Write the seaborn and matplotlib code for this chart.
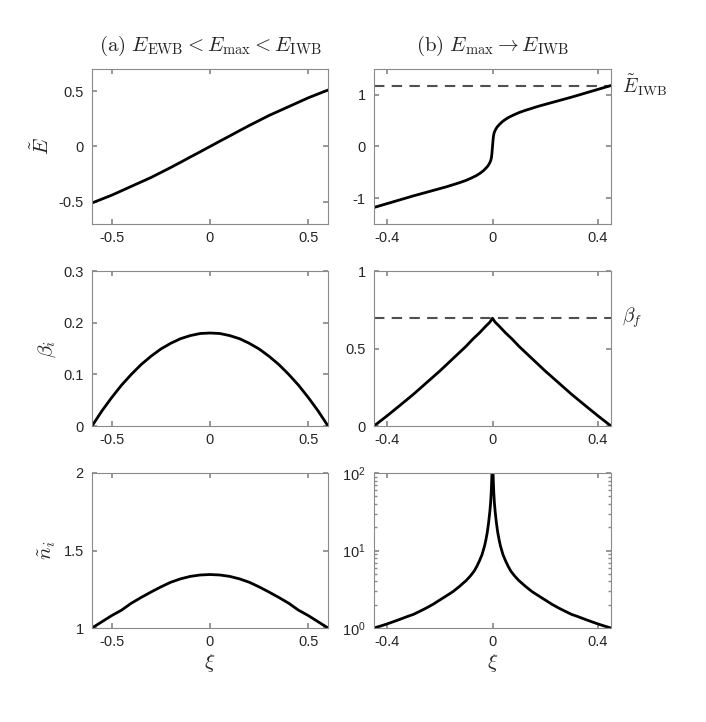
import numpy as np
import pandas as pd
import matplotlib
matplotlib.use("Agg")
import matplotlib.pyplot as plt
import matplotlib.transforms as mtrans
import seaborn as sns

# ---------------- data ----------------
# (a) left column, xi in [-0.6, 0.6]
xi_a = [-0.6, -0.55, -0.5, -0.45, -0.4, -0.35, -0.3, -0.25, -0.2, -0.15, -0.1, -0.05,
        0.0, 0.05, 0.1, 0.15, 0.2, 0.25, 0.3, 0.35, 0.4, 0.45, 0.5, 0.55, 0.6]
E_a = [-0.51, -0.475, -0.44, -0.40, -0.36, -0.32, -0.28, -0.235, -0.19, -0.143, -0.095, -0.048,
       0.0, 0.048, 0.095, 0.143, 0.19, 0.235, 0.28, 0.32, 0.36, 0.40, 0.44, 0.475, 0.51]
beta_a = [0.0, 0.029, 0.055, 0.079, 0.10, 0.119, 0.135, 0.149, 0.16, 0.169, 0.175, 0.179,
          0.18, 0.179, 0.175, 0.169, 0.16, 0.149, 0.135, 0.119, 0.10, 0.079, 0.055, 0.029, 0.0]
n_a = [1.0, 1.04, 1.08, 1.115, 1.16, 1.197, 1.232, 1.265, 1.295, 1.317, 1.333, 1.342,
       1.345, 1.342, 1.333, 1.317, 1.295, 1.265, 1.232, 1.197, 1.16, 1.115, 1.08, 1.04, 1.0]

# (b) right column, xi in [-0.45, 0.45]
xi_bE = [-0.45, -0.4, -0.35, -0.3, -0.25, -0.2, -0.175, -0.15, -0.125, -0.1, -0.08, -0.06,
         -0.045, -0.035, -0.025, -0.018, -0.013, -0.009, -0.006, -0.004, -0.003, -0.002,
         -0.001, 0.0, 0.001, 0.002, 0.003, 0.004, 0.006, 0.009, 0.013, 0.018, 0.025,
         0.035, 0.045, 0.06, 0.08, 0.1, 0.125, 0.15, 0.175, 0.2, 0.25, 0.3, 0.35, 0.4, 0.45]
E_b = [-1.18, -1.105, -1.03, -0.955, -0.885, -0.815, -0.78, -0.74, -0.70, -0.655, -0.61, -0.56,
       -0.51, -0.47, -0.42, -0.38, -0.34, -0.30, -0.26, -0.21, -0.17, -0.12,
       -0.06, 0.0, 0.06, 0.12, 0.17, 0.21, 0.26, 0.30, 0.34, 0.38, 0.42,
       0.47, 0.51, 0.56, 0.61, 0.655, 0.70, 0.74, 0.78, 0.815, 0.885, 0.955, 1.03, 1.105, 1.18]

xi_bb = [-0.45, -0.4, -0.35, -0.3, -0.25, -0.2, -0.15, -0.1, -0.075, -0.05, -0.025, -0.01, 0.0,
         0.01, 0.025, 0.05, 0.075, 0.1, 0.15, 0.2, 0.25, 0.3, 0.35, 0.4, 0.45]
beta_b = [0.0, 0.066, 0.135, 0.205, 0.28, 0.355, 0.435, 0.515, 0.56, 0.60, 0.645, 0.67, 0.695,
          0.67, 0.645, 0.60, 0.56, 0.515, 0.435, 0.355, 0.28, 0.205, 0.135, 0.066, 0.0]

xi_bn = [-0.45, -0.425, -0.4, -0.375, -0.35, -0.325, -0.3, -0.275, -0.25, -0.225, -0.2,
         -0.175, -0.15, -0.125, -0.1, -0.085, -0.07, -0.06, -0.05, -0.04, -0.03, -0.025,
         -0.02, -0.015, -0.01, -0.007, -0.005, -0.003, -0.002, 0.0,
         0.002, 0.003, 0.005, 0.007, 0.01, 0.015, 0.02, 0.025, 0.03, 0.04, 0.05, 0.06,
         0.07, 0.085, 0.1, 0.125, 0.15, 0.175, 0.2, 0.225, 0.25, 0.275, 0.3, 0.325, 0.35,
         0.375, 0.4, 0.425, 0.45]
n_b = [1.0, 1.06, 1.13, 1.21, 1.3, 1.4, 1.5, 1.65, 1.82, 2.03, 2.3,
       2.6, 2.95, 3.45, 4.1, 4.65, 5.4, 6.2, 7.3, 8.8, 11.5, 13.8,
       17.0, 22.5, 32.0, 42.0, 55.0, 80.0, 105.0, 200.0,
       105.0, 80.0, 55.0, 42.0, 32.0, 22.5, 17.0, 13.8, 11.5, 8.8, 7.3, 6.2,
       5.4, 4.65, 4.1, 3.45, 2.95, 2.6, 2.3, 2.03, 1.82, 1.65, 1.5, 1.4, 1.3,
       1.21, 1.13, 1.06, 1.0]

E_IWB = 1.18
beta_f = 0.70

titles = [r"$\mathrm{(a)}\ E_{\mathrm{EWB}} < E_{\max} < E_{\mathrm{IWB}}$",
          r"$\mathrm{(b)}\ E_{\max} \rightarrow E_{\mathrm{IWB}}$"]
ylabels = [r"$\tilde{E}$", r"$\beta_i$", r"$\tilde{n}_i$"]
xlabel = r"$\xi$"
label_E = r"$\tilde{E}_{\mathrm{IWB}}$"
label_beta = r"$\beta_f$"

# ---------------- style ----------------
sns.set_theme(style="white")
plt.rcParams["font.family"] = ["Liberation Sans", "DejaVu Sans"]
plt.rcParams["mathtext.fontset"] = "cm"
spine_c = "#8a8a8a"
text_c = "#262626"
plt.rcParams.update({
    "axes.edgecolor": spine_c, "axes.linewidth": 0.8,
    "xtick.color": spine_c, "ytick.color": spine_c,
    "xtick.labelcolor": text_c, "ytick.labelcolor": text_c,
    "xtick.direction": "in", "ytick.direction": "in",
    "xtick.major.size": 3.5, "ytick.major.size": 3.5,
    "xtick.minor.size": 2, "ytick.minor.size": 2,
    "xtick.major.pad": 5, "ytick.major.pad": 6,
    "xtick.labelsize": 10.5, "ytick.labelsize": 10.5,
})

fig = plt.figure(figsize=(7.06, 7.22), dpi=100)
W, H = 706, 722
cols = [(92, 236), (374, 237)]
rows = [(69, 155), (271, 155), (473, 155)]
axes = [[fig.add_axes([cx / W, 1 - (ry + rh) / H, cw / W, rh / H]) for (cx, cw) in cols]
        for (ry, rh) in rows]

lw = 2.0
dash_c = "#505050"

def draw(ax, x, y):
    df = pd.DataFrame({"xi": x, "v": y})
    sns.lineplot(data=df, x="xi", y="v", ax=ax, color="black", lw=lw,
                 sort=False, estimator=None)
    ax.set_xlabel("")
    ax.set_ylabel("")

# left column
draw(axes[0][0], xi_a, E_a)
draw(axes[1][0], xi_a, beta_a)
draw(axes[2][0], xi_a, n_a)
for ax in (axes[0][0], axes[1][0], axes[2][0]):
    ax.set_xlim(-0.6, 0.6)
    ax.set_xticks([-0.5, 0, 0.5], ["-0.5", "0", "0.5"])
axes[0][0].set_ylim(-0.7, 0.7)
axes[0][0].set_yticks([-0.5, 0, 0.5], ["-0.5", "0", "0.5"])
axes[1][0].set_ylim(0, 0.3)
axes[1][0].set_yticks([0, 0.1, 0.2, 0.3], ["0", "0.1", "0.2", "0.3"])
axes[2][0].set_ylim(1, 2)
axes[2][0].set_yticks([1, 1.5, 2], ["1", "1.5", "2"])

# right column
draw(axes[0][1], xi_bE, E_b)
draw(axes[1][1], xi_bb, beta_b)
axes[2][1].set_yscale("log")
draw(axes[2][1], xi_bn, n_b)
for ax in (axes[0][1], axes[1][1], axes[2][1]):
    ax.set_xlim(-0.45, 0.45)
    ax.set_xticks([-0.4, 0, 0.4], ["-0.4", "0", "0.4"])
axes[0][1].set_ylim(-1.5, 1.5)
axes[0][1].set_yticks([-1, 0, 1], ["-1", "0", "1"])
axes[1][1].set_ylim(0, 1)
axes[1][1].set_yticks([0, 0.5, 1], ["0", "0.5", "1"])
axes[2][1].set_ylim(1, 100)

# dashed reference levels
axes[0][1].axhline(E_IWB, color=dash_c, lw=1.5, ls=(0, (5, 3.5)), zorder=1)
axes[1][1].axhline(beta_f, color=dash_c, lw=1.5, ls=(0, (5, 3.5)), zorder=1)
for ax, lev, lab in ((axes[0][1], E_IWB, label_E), (axes[1][1], beta_f, label_beta)):
    tr = mtrans.blended_transform_factory(ax.transAxes, ax.transData)
    ax.text(1.045, lev, lab, transform=tr, ha="left", va="center",
            fontsize=14, color=text_c)

for r, row in enumerate(axes):
    for c, ax in enumerate(row):
        ax.tick_params(which="both", top=True, right=True, left=True, bottom=True)
        for s in ax.spines.values():
            s.set_visible(True)
            s.set_color(spine_c)
        if r == 2:
            ax.set_xlabel(xlabel, fontsize=15, color=text_c, labelpad=2)
    row[0].set_ylabel(ylabels[r], fontsize=15, color=text_c, labelpad=4)

axes[0][0].set_title(titles[0], fontsize=15, color=text_c, pad=13)
axes[0][1].set_title(titles[1], fontsize=15, color=text_c, pad=13)

fig.savefig("out.png", dpi=100, facecolor="white")
